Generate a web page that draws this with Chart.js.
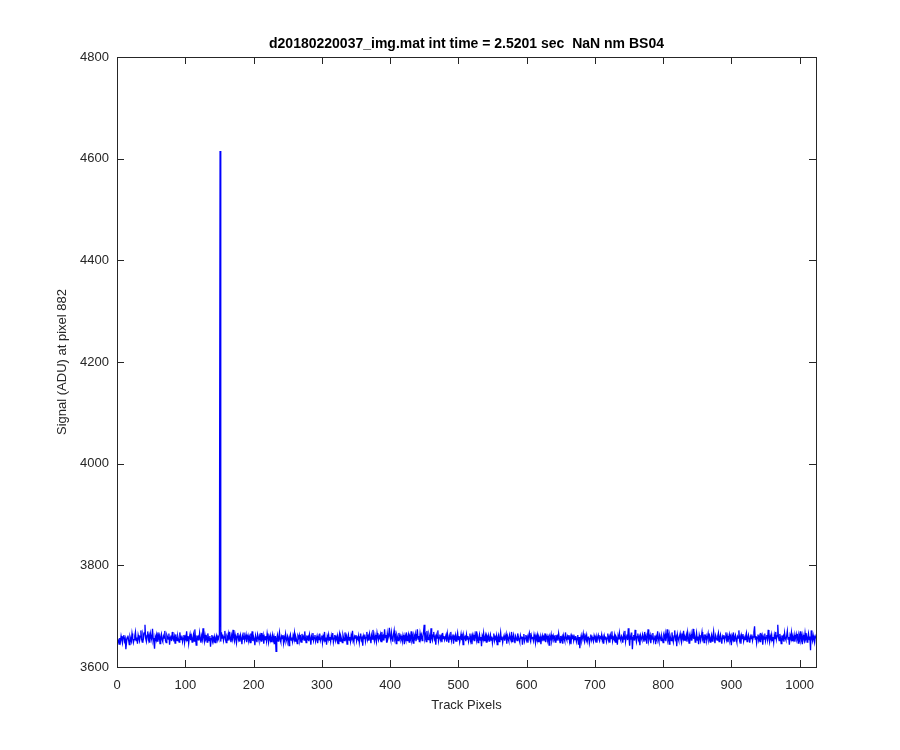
<!DOCTYPE html>
<html>
<head>
<meta charset="utf-8">
<script src="https://cdn.jsdelivr.net/npm/chart.js@4.4.0/dist/chart.umd.min.js"></script>
<style>
  html, body { margin: 0; padding: 0; background: #fff; }
  #wrap { width: 900px; height: 750px; }
</style>
</head>
<body>
<div id="wrap"><canvas id="trackChart" width="900" height="750"></canvas></div>
<script>
// Title and axis labels
const chartTitle = "d20180220037_img.mat int time = 2.5201 sec  NaN nm BS04";
const xLabel = "Track Pixels";
const yLabel = "Signal (ADU) at pixel 882";

// Axis ticks
const xTicks = [0, 100, 200, 300, 400, 500, 600, 700, 800, 900, 1000];
const yTicks = [3600, 3800, 4000, 4200, 4400, 4600, 4800];

// Signal, one value per track pixel (1..1024)
const signal = [
  3648,3652,3645,3657,3650,3661,3654,3647,3659,3663,3651,3656,3635,3649,3658,3662,3653,3644,3660,3655,3650,3666,3657,3648,3654,3661,3669,3652,3658,3646,3663,3657,
  3651,3660,3672,3655,3649,3664,3658,3667,3683,3656,3650,3662,3670,3654,3661,3648,3666,3659,3653,3675,3657,3649,3636,3660,3655,3663,3651,3668,3657,3662,3646,3659,
  3665,3654,3650,3661,3657,3671,3652,3648,3663,3659,3655,3666,3644,3658,3662,3651,3669,3656,3653,3660,3647,3664,3657,3652,3661,3655,3649,3668,3658,3654,3662,3650,
  3657,3663,3648,3659,3655,3670,3652,3661,3646,3658,3665,3653,3660,3649,3656,3664,3651,3674,3657,3643,3662,3655,3659,3652,3667,3656,3648,3661,3654,3676,3658,3650,
  3663,3655,3659,3649,3666,3657,3652,3661,3640,3656,3663,3651,3658,3654,3660,3648,3657,3662,3653,3659,3655,3664,4615,3650,3668,3657,3664,3652,3659,3671,3654,3648,
  3660,3656,3665,3652,3669,3657,3649,3662,3655,3673,3658,3651,3664,3656,3647,3660,3667,3654,3659,3650,3663,3657,3645,3661,3655,3668,3652,3658,3664,3649,3656,3662,
  3653,3659,3648,3666,3657,3670,3651,3660,3655,3643,3662,3656,3649,3664,3658,3652,3661,3655,3667,3650,3657,3663,3646,3659,3654,3661,3651,3666,3657,3648,3660,3655,
  3662,3650,3657,3664,3652,3659,3645,3661,3631,3656,3663,3651,3658,3668,3654,3649,3660,3656,3663,3647,3658,3652,3665,3655,3650,3661,3657,3642,3659,3664,3653,3658,
  3650,3662,3656,3667,3651,3659,3654,3646,3661,3657,3663,3652,3658,3649,3665,3656,3660,3653,3670,3657,3648,3662,3655,3659,3651,3664,3657,3644,3660,3654,3667,3652,
  3658,3663,3650,3656,3661,3647,3659,3654,3666,3652,3657,3662,3648,3660,3655,3669,3651,3658,3644,3661,3656,3664,3653,3659,3650,3662,3655,3667,3649,3657,3663,3652,
  3659,3654,3661,3646,3657,3665,3651,3660,3655,3648,3663,3657,3652,3668,3656,3661,3645,3658,3664,3653,3659,3650,3662,3656,3671,3654,3649,3660,3657,3663,3651,3658,
  3655,3662,3648,3659,3666,3653,3657,3642,3661,3656,3664,3650,3658,3669,3654,3660,3652,3665,3657,3647,3662,3655,3673,3658,3651,3663,3656,3649,3667,3659,3653,3661,
  3657,3664,3650,3669,3655,3660,3652,3674,3658,3663,3648,3666,3656,3661,3677,3659,3653,3668,3657,3650,3664,3672,3655,3660,3646,3663,3658,3652,3667,3656,3661,3654,
  3659,3650,3663,3657,3645,3661,3655,3668,3652,3658,3664,3649,3660,3656,3670,3653,3659,3647,3662,3657,3665,3651,3658,3674,3655,3661,3649,3666,3657,3663,3652,3659,
  3668,3683,3656,3662,3650,3671,3658,3654,3665,3660,3647,3676,3657,3652,3663,3669,3655,3659,3644,3662,3657,3672,3651,3658,3664,3654,3660,3649,3667,3656,3661,3653,
  3658,3663,3650,3666,3657,3648,3661,3655,3669,3652,3659,3664,3646,3660,3656,3663,3651,3658,3667,3654,3661,3649,3657,3665,3653,3660,3644,3662,3656,3659,3651,3664,
  3655,3661,3650,3657,3666,3652,3659,3645,3662,3656,3663,3651,3658,3670,3654,3660,3648,3657,3664,3653,3659,3641,3661,3656,3667,3652,3658,3663,3649,3660,3655,3662,
  3651,3658,3664,3653,3660,3647,3657,3666,3652,3659,3655,3662,3644,3658,3663,3650,3656,3668,3654,3660,3648,3657,3662,3652,3659,3665,3646,3661,3656,3651,3663,3657,
  3653,3669,3650,3658,3664,3655,3647,3661,3657,3652,3666,3659,3654,3649,3662,3656,3660,3644,3658,3665,3651,3657,3663,3653,3659,3648,3661,3667,3655,3650,3662,3656,
  3659,3652,3664,3657,3647,3661,3655,3663,3650,3658,3653,3660,3645,3657,3662,3651,3659,3655,3666,3649,3657,3661,3653,3658,3643,3660,3656,3664,3651,3657,3662,3654,
  3658,3649,3663,3655,3660,3652,3666,3657,3648,3661,3654,3659,3646,3662,3656,3651,3668,3657,3653,3660,3655,3663,3650,3658,3645,3661,3656,3664,3652,3659,3654,3661,
  3650,3657,3663,3644,3659,3637,3655,3662,3652,3658,3666,3654,3649,3661,3656,3663,3651,3658,3660,3647,3656,3664,3653,3659,3655,3650,3662,3657,3652,3660,3648,3658,
  3663,3655,3651,3659,3657,3664,3652,3658,3646,3661,3655,3660,3650,3657,3666,3653,3659,3648,3662,3656,3670,3651,3658,3655,3663,3649,3660,3657,3644,3661,3654,3667,
  3656,3652,3661,3658,3648,3663,3655,3671,3650,3659,3664,3653,3676,3657,3642,3661,3655,3668,3635,3658,3663,3652,3673,3656,3649,3660,3666,3654,3659,3643,3662,3657,
  3653,3664,3658,3650,3669,3656,3661,3646,3659,3674,3652,3658,3663,3647,3660,3655,3667,3651,3657,3662,3645,3659,3654,3670,3656,3650,3663,3658,3652,3661,3655,3648,
  3662,3657,3666,3651,3659,3674,3654,3660,3645,3663,3657,3652,3668,3656,3649,3661,3672,3655,3659,3641,3664,3657,3652,3660,3666,3654,3648,3662,3657,3671,3653,3659,
  3655,3663,3650,3668,3658,3647,3661,3656,3665,3652,3659,3675,3655,3662,3649,3657,3667,3653,3660,3645,3663,3657,3651,3660,3669,3655,3659,3648,3664,3656,3661,3652,
  3658,3666,3654,3660,3649,3657,3663,3651,3659,3670,3655,3647,3662,3657,3653,3661,3667,3650,3658,3664,3655,3646,3660,3656,3663,3652,3659,3668,3654,3661,3649,3657,
  3664,3653,3659,3643,3661,3656,3668,3651,3658,3663,3655,3649,3660,3657,3672,3653,3659,3646,3662,3656,3665,3651,3658,3654,3661,3667,3650,3657,3663,3655,3648,3660,
  3656,3664,3652,3659,3669,3680,3655,3661,3647,3658,3664,3653,3660,3650,3667,3657,3662,3644,3659,3655,3666,3651,3658,3663,3654,3673,3657,3649,3661,3656,3664,3652,
  3659,3648,3663,3656,3669,3654,3661,3683,3658,3652,3665,3657,3646,3662,3655,3660,3650,3667,3657,3653,3661,3671,3655,3659,3644,3662,3657,3668,3652,3659,3654,3663,
  3650,3658,3665,3655,3660,3647,3662,3656,3670,3653,3659,3645,3663,3657,3652,3667,3656,3661,3649,3658,3666,3654,3660,3633,3672,3657,3651,3662,3655,3648,3660,3656
];

const axisColor = "#262626";
const fontFamily = "'Liberation Sans', Arial, Helvetica, sans-serif";

// Points on the line: x is the pixel index along the track
const points = signal.map((v, i) => ({ x: i + 1, y: v }));

// Draws the axis box, inward ticks on all four sides and the title centred over the axes
const boxPlugin = {
    id: "boxPlugin",
    afterDraw(chart) {
        const ctx = chart.ctx;
        const a = chart.chartArea;
        const xs = chart.scales.x;
        const ys = chart.scales.y;
        const len = 7;
        ctx.save();
        ctx.strokeStyle = axisColor;
        ctx.lineWidth = 1;
        ctx.beginPath();
        xTicks.forEach(t => {
            const px = Math.round(xs.getPixelForValue(t)) + 0.5;
            ctx.moveTo(px, a.bottom);
            ctx.lineTo(px, a.bottom - len);
            ctx.moveTo(px, a.top);
            ctx.lineTo(px, a.top + len);
        });
        yTicks.forEach(t => {
            const py = Math.round(ys.getPixelForValue(t)) + 0.5;
            ctx.moveTo(a.left, py);
            ctx.lineTo(a.left + len, py);
            ctx.moveTo(a.right, py);
            ctx.lineTo(a.right - len, py);
        });
        ctx.stroke();
        ctx.strokeRect(Math.round(a.left) + 0.5, Math.round(a.top) + 0.5,
            Math.round(a.right - a.left), Math.round(a.bottom - a.top));

        // title
        ctx.fillStyle = "#000";
        ctx.font = "bold 14px " + fontFamily;
        ctx.textAlign = "center";
        ctx.textBaseline = "middle";
        ctx.fillText(chartTitle, (a.left + a.right) / 2, 44);
        ctx.restore();
    }
};

document.addEventListener("DOMContentLoaded", function () {
    const ctx = document.getElementById("trackChart").getContext("2d");

    new Chart(ctx, {
        type: "line",
        data: {
            datasets: [{
                data: points,
                borderColor: "#0000ff",
                borderWidth: 1.3,
                pointRadius: 0,
                tension: 0,
                fill: false
            }]
        },
        options: {
            responsive: false,
            animation: false,
            layout: { padding: { left: 0, right: 84, top: 57, bottom: 33 } },
            plugins: {
                legend: { display: false },
                tooltip: { enabled: false },
                title: { display: false }
            },
            scales: {
                x: {
                    type: "linear",
                    min: 0,
                    max: 1024,
                    afterBuildTicks: s => { s.ticks = xTicks.map(v => ({ value: v })); },
                    afterFit: s => { s.height = 50; },
                    grid: { display: false, drawTicks: false },
                    border: { display: false },
                    ticks: {
                        padding: 11,
                        color: axisColor,
                        maxRotation: 0,
                        font: { family: fontFamily, size: 13 },
                        callback: v => String(v)
                    },
                    title: {
                        display: true,
                        text: xLabel,
                        color: axisColor,
                        font: { family: fontFamily, size: 13 },
                        padding: { top: 5, bottom: 4 }
                    }
                },
                y: {
                    min: 3600,
                    max: 4800,
                    afterBuildTicks: s => { s.ticks = yTicks.map(v => ({ value: v })); },
                    afterFit: s => { s.width = 117; },
                    grid: { display: false, drawTicks: false },
                    border: { display: false },
                    ticks: {
                        padding: 8,
                        color: axisColor,
                        font: { family: fontFamily, size: 13 },
                        callback: v => String(v)
                    },
                    title: {
                        display: true,
                        text: yLabel,
                        color: axisColor,
                        font: { family: fontFamily, size: 13 },
                        padding: { top: 55, bottom: 4 }
                    }
                }
            }
        },
        plugins: [boxPlugin]
    });
});
</script>
</body>
</html>
